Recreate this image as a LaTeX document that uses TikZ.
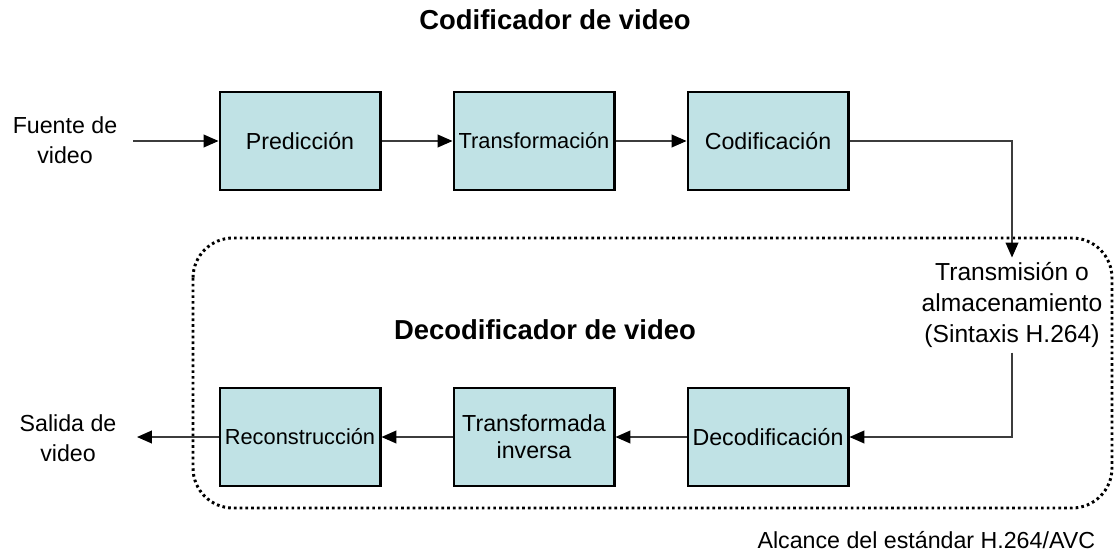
\documentclass[tikz,border=0pt]{standalone}
\usepackage{fontspec}
\setmainfont{Liberation Sans}
\usetikzlibrary{arrows.meta}

\definecolor{boxfill}{RGB}{192,226,229}
\definecolor{linegray}{RGB}{60,60,60}

\begin{document}
\begin{tikzpicture}[x=0.025cm,y=-0.025cm,
    block/.style={draw=black,line width=2.1pt,fill=boxfill,
      minimum width=4cm,minimum height=2.45cm,inner sep=1pt,
      align=center,font=\fontsize{16.5}{19}\selectfont},
    label/.style={align=center,font=\fontsize{16.5}{21}\selectfont},
    title/.style={font=\bfseries\fontsize{19.5}{22}\selectfont},
    conn/.style={draw=linegray,line width=1pt,-{Triangle[length=10.5pt,width=9pt,color=black]}},
    scopebox/.style={draw=black,line width=2.1pt,dash pattern=on 1.9pt off 2.2pt,rounded corners=1cm}]
    \useasboundingbox (0,0) rectangle (1117,552);
    % titles
    \node[title] (enctitle) at (555,20) {Codificador de video};
    \node[title] (dectitle) at (545,330) {Decodificador de video};
    % scope of the standard
    \draw[scopebox] (193,238) rectangle (1112,508);
    \node[label,anchor=east] (alcance) at (1100,540) {Alcance del estándar H.264/AVC};
    % encoder row
    \node[block] (pred) at (300,141) {Predicción};
    \node[block,font=\fontsize{15.5}{18}\selectfont] (trans) at (534,141) {Transformación};
    \node[block] (cod) at (768,141) {Codificación};
    % decoder row
    \node[block,font=\fontsize{15.5}{18}\selectfont] (recon) at (300,437) {Reconstrucción};
    \node[block] (tinv) at (534,437) {Transformada\\inversa};
    \node[block] (dec) at (768,437) {Decodificación};
    % outside texts
    \node[label] (fuente) at (65,140) {Fuente de\\video};
    \node[label] (salida) at (68,438) {Salida de\\video};
    \node[label,font=\fontsize{17.5}{22}\selectfont] (canal) at (1012,305) {Transmisión o\\almacenamiento\\(Sintaxis H.264)};
    \coordinate (src) at (133,141);
    \coordinate (out) at (137,437);
    % connectors
    \draw[conn] (src) -- (pred.west);
    \draw[conn] (pred.east) -- (trans.west);
    \draw[conn] (trans.east) -- (cod.west);
    \draw[conn] (cod.east) -| (canal.north);
    \draw[conn] (canal.south) |- (dec.east);
    \draw[conn] (dec.west) -- (tinv.east);
    \draw[conn] (tinv.west) -- (recon.east);
    \draw[conn] (recon.west) -- (out);
\end{tikzpicture}
\end{document}
